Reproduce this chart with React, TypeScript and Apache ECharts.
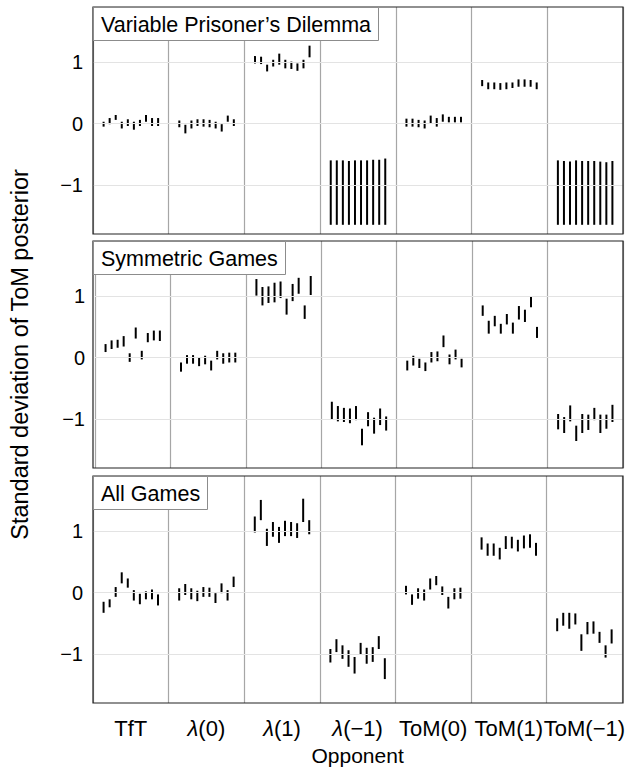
import React, { useEffect, useRef } from "react";
import * as echarts from "echarts";

const opponents = ["TfT", "λ(0)", "λ(1)", "λ(−1)", "ToM(0)", "ToM(1)", "ToM(−1)"];
const panelTitles = ["Variable Prisoner’s Dilemma", "Symmetric Games", "All Games"];
const yTicks = [-1, 0, 1];

// [low, high] ranges per opponent, 10 runs each
const vpdRanges = [
  [[-0.05, 0.03], [-0.01, 0.09], [0.06, 0.14], [-0.08, 0.03], [-0.04, 0.07], [-0.1, 0.03], [-0.04, 0.06], [0.03, 0.14], [-0.04, 0.09], [-0.04, 0.09]],
  [[-0.06, 0.05], [-0.16, -0.02], [-0.08, 0.05], [-0.04, 0.07], [-0.05, 0.07], [-0.06, 0.06], [-0.08, 0.03], [-0.13, -0.01], [0.03, 0.13], [-0.04, 0.07]],
  [[0.98, 1.1], [0.97, 1.09], [0.85, 0.96], [0.93, 1.04], [0.96, 1.14], [0.9, 1.04], [0.89, 1.01], [0.86, 0.98], [0.9, 1.04], [1.08, 1.27]],
  [[-1.65, -0.6], [-1.65, -0.6], [-1.65, -0.6], [-1.65, -0.61], [-1.65, -0.6], [-1.65, -0.6], [-1.65, -0.6], [-1.65, -0.59], [-1.65, -0.59], [-1.65, -0.57]],
  [[-0.05, 0.08], [-0.05, 0.08], [-0.06, 0.06], [-0.08, 0.05], [0.0, 0.13], [-0.05, 0.09], [0.03, 0.15], [0.02, 0.11], [0.02, 0.11], [0.02, 0.11]],
  [[0.61, 0.71], [0.56, 0.67], [0.56, 0.67], [0.55, 0.66], [0.56, 0.67], [0.58, 0.67], [0.6, 0.72], [0.6, 0.72], [0.6, 0.71], [0.56, 0.67]],
  [[-1.65, -0.6], [-1.65, -0.61], [-1.65, -0.62], [-1.65, -0.6], [-1.65, -0.61], [-1.65, -0.61], [-1.65, -0.61], [-1.65, -0.62], [-1.65, -0.63], [-1.65, -0.61]],
];

const symRanges = [
  [[0.09, 0.22], [0.14, 0.28], [0.16, 0.29], [0.18, 0.35], [-0.07, 0.07], [0.31, 0.49], [-0.03, 0.11], [0.25, 0.4], [0.28, 0.44], [0.27, 0.44]],
  [[-0.23, -0.08], [-0.1, 0.04], [-0.1, 0.04], [-0.14, 0.0], [-0.11, 0.03], [-0.21, -0.05], [-0.03, 0.11], [-0.1, 0.07], [-0.08, 0.08], [-0.08, 0.08]],
  [[1.01, 1.28], [0.85, 1.15], [0.89, 1.16], [0.9, 1.22], [0.97, 1.24], [0.7, 0.96], [0.92, 1.2], [1.04, 1.3], [0.63, 0.85], [1.02, 1.33]],
  [[-1.01, -0.72], [-1.04, -0.79], [-1.05, -0.82], [-1.07, -0.83], [-1.02, -0.79], [-1.43, -1.16], [-1.12, -0.89], [-1.24, -0.98], [-1.1, -0.83], [-1.19, -0.96]],
  [[-0.21, -0.05], [-0.13, 0.03], [-0.17, -0.02], [-0.22, -0.08], [-0.08, 0.09], [-0.06, 0.1], [0.17, 0.36], [-0.11, 0.05], [-0.03, 0.13], [-0.16, -0.02]],
  [[0.68, 0.85], [0.39, 0.6], [0.51, 0.68], [0.39, 0.55], [0.54, 0.71], [0.39, 0.57], [0.62, 0.84], [0.58, 0.78], [0.82, 1.0], [0.32, 0.5]],
  [[-1.17, -0.92], [-1.23, -0.97], [-1.04, -0.78], [-1.36, -1.11], [-1.23, -0.92], [-1.18, -0.93], [-1.02, -0.82], [-1.23, -0.93], [-1.16, -0.93], [-1.05, -0.77]],
];

const allRanges = [
  [[-0.33, -0.15], [-0.24, -0.11], [-0.07, 0.09], [0.15, 0.33], [0.08, 0.23], [-0.13, 0.04], [-0.19, -0.02], [-0.11, 0.02], [-0.11, 0.05], [-0.21, -0.03]],
  [[-0.13, 0.07], [-0.04, 0.14], [-0.11, 0.07], [-0.14, 0.03], [-0.07, 0.09], [-0.07, 0.08], [-0.17, -0.01], [-0.01, 0.15], [-0.13, 0.04], [0.09, 0.26]],
  [[0.98, 1.24], [1.18, 1.51], [0.76, 1.04], [0.91, 1.15], [0.81, 1.07], [0.92, 1.17], [0.92, 1.15], [0.89, 1.13], [1.15, 1.53], [0.95, 1.18]],
  [[-1.14, -0.92], [-0.97, -0.76], [-1.08, -0.86], [-1.21, -0.94], [-1.32, -1.05], [-1.01, -0.82], [-1.16, -0.9], [-1.13, -0.89], [-0.92, -0.71], [-1.41, -1.07]],
  [[-0.03, 0.11], [-0.2, -0.03], [-0.1, 0.07], [-0.13, 0.05], [0.05, 0.23], [0.12, 0.27], [-0.04, 0.1], [-0.26, -0.07], [-0.11, 0.07], [-0.1, 0.08]],
  [[0.7, 0.9], [0.6, 0.8], [0.6, 0.8], [0.54, 0.73], [0.71, 0.92], [0.72, 0.91], [0.67, 0.86], [0.72, 0.93], [0.73, 0.95], [0.6, 0.81]],
  [[-0.63, -0.42], [-0.54, -0.33], [-0.59, -0.33], [-0.52, -0.34], [-0.95, -0.68], [-0.68, -0.48], [-0.67, -0.47], [-0.82, -0.64], [-1.06, -0.86], [-0.83, -0.6]],
];

const panels = [vpdRanges, symRanges, allRanges];

const FONT = "'Liberation Sans', Arial, Helvetica, sans-serif";

export default function App() {
  const ref = useRef<HTMLDivElement>(null);

  useEffect(() => {
    if (!ref.current) return;
    const chart = echarts.init(ref.current, undefined, { renderer: "svg" });

    const gridTops = [7, 241, 476];
    const gridH = 227;
    const left = 93;
    const width = 530;

    const grids: any[] = [];
    const xAxes: any[] = [];
    const yAxes: any[] = [];
    const series: any[] = [];
    const titles: any[] = [];
    const graphics: any[] = [];

    const minusFmt = (v: number) => (v < 0 ? "−" + Math.abs(v) : String(v));

    panels.forEach((ranges, p) => {
      grids.push({ left, top: gridTops[p], width, height: gridH, containLabel: false });
      const isLast = p === panels.length - 1;
      xAxes.push({
        type: "category",
        gridIndex: p,
        data: opponents,
        boundaryGap: true,
        axisLine: { show: false },
        axisTick: { show: false },
        splitLine: { show: true, lineStyle: { color: "#a6a6a6", width: 1.2 } },
        axisLabel: {
          show: isLast,
          margin: 14,
          fontSize: 22,
          color: "#000",
          fontFamily: FONT,
          interval: 0,
          formatter: (v: string) => v.replace("λ", "{i|λ}"),
          rich: { i: { fontStyle: "italic", fontSize: 22, color: "#000", fontFamily: FONT } },
        },
        name: isLast ? "Opponent" : "",
        nameLocation: "middle",
        nameGap: 42,
        nameTextStyle: { fontSize: 21, color: "#000", fontFamily: FONT },
      });
      yAxes.push({
        type: "value",
        gridIndex: p,
        min: -1.8,
        max: 1.9,
        position: "left",
        axisLine: { show: false },
        splitLine: { show: false },
        axisTick: { show: true, inside: true, length: 3, customValues: yTicks, lineStyle: { color: "#333" } },
        axisLabel: {
          customValues: yTicks,
          formatter: minusFmt,
          fontSize: 20,
          color: "#000",
          fontFamily: FONT,
          margin: 10,
        },
        name: p === 1 ? "Standard deviation of ToM posterior" : "",
        nameLocation: "middle",
        nameRotate: 90,
        nameGap: 63,
        nameTextStyle: { fontSize: 23.5, color: "#000", fontFamily: FONT },
      });
      yAxes.push({
        type: "value",
        gridIndex: p,
        min: -1.8,
        max: 1.9,
        position: "right",
        axisLine: { show: false },
        splitLine: { show: false },
        axisTick: { show: true, inside: true, length: 3, customValues: yTicks, lineStyle: { color: "#333" } },
        axisLabel: { show: false },
      });

      // gridlines
      series.push({
        type: "line",
        xAxisIndex: p,
        yAxisIndex: p * 2,
        data: [],
        silent: true,
        z: 1,
        markLine: {
          silent: true,
          symbol: "none",
          label: { show: false },
          lineStyle: { color: "#e3e3e3", width: 1.2, type: "solid" },
          data: yTicks.map((t) => ({ yAxis: t })),
        },
      });

      const data: number[][] = [];
      ranges.forEach((grp, c) => {
        grp.forEach(([lo, hi], k) => data.push([c, lo, hi, k]));
      });
      series.push({
        type: "custom",
        xAxisIndex: p,
        yAxisIndex: p * 2,
        z: 3,
        encode: { x: 0, y: [1, 2] },
        data,
        renderItem: (params: any, api: any) => {
          const c = api.value(0);
          const lo = api.value(1);
          const hi = api.value(2);
          const k = api.value(3);
          const bw = api.size([1, 0])[0];
          const top = api.coord([c, hi]);
          const bot = api.coord([c, lo]);
          const x = top[0] + (k - 4.5) * 0.08 * bw;
          return {
            type: "line",
            shape: { x1: x, y1: top[1], x2: x, y2: bot[1] },
            style: { stroke: "#000", lineWidth: 2 },
          };
        },
      });

      titles.push({
        text: panelTitles[p],
        left: left,
        top: gridTops[p],
        padding: [6, 8, 5, 8],
        backgroundColor: "#fff",
        borderColor: "#8c8c8c",
        borderWidth: 1,
        z: 20,
        textStyle: { fontSize: 21.5, fontWeight: "normal", color: "#000", fontFamily: FONT, lineHeight: 23 },
      });

      graphics.push({
        type: "rect",
        shape: { x: left, y: gridTops[p], width, height: gridH },
        style: { fill: "none", stroke: "#222", lineWidth: 1.2 },
        silent: true,
        z: 10,
      });
    });

    chart.setOption({
      animation: false,
      backgroundColor: "#fff",
      title: titles,
      grid: grids,
      xAxis: xAxes,
      yAxis: yAxes,
      series,
      graphic: graphics,
    });

    return () => chart.dispose();
  }, []);

  return (
    <div
      ref={ref}
      style={{ position: "absolute", left: 0, top: 0, width: 628, height: 768 }}
    />
  );
}
